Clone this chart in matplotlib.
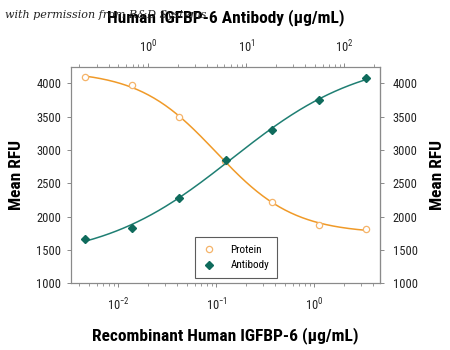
import matplotlib
matplotlib.use("Agg")
import matplotlib.pyplot as plt
import numpy as np
from matplotlib.ticker import LogLocator, NullFormatter

# ── Data ───────────────────────────────────────────────────────────────────
protein_conc = [0.00457, 0.0137, 0.0412, 0.123, 0.370, 1.11, 3.33]      # µg/mL
protein_rfu = [4095, 3970, 3495, 2840, 2225, 1870, 1815]
antibody_conc = [0.229, 0.686, 2.06, 6.17, 18.5, 55.6, 166.7]         # µg/mL
antibody_rfu = [1665, 1825, 2280, 2850, 3300, 3750, 4080]
y_ticks = [1000, 1500, 2000, 2500, 3000, 3500, 4000]

ORANGE_LINE = "#f09a28"
ORANGE_MK = "#f5b46a"
TEAL_LINE = "#1f7f73"
TEAL_MK = "#0f6b5c"
FONT = ["Roboto Condensed", "Liberation Sans", "DejaVu Sans"]

plt.rcParams["font.family"] = FONT
plt.rcParams["mathtext.fontset"] = "custom"
plt.rcParams["mathtext.rm"] = "Liberation Sans"


def fit_4pl(x, y):
    """Crude 4PL fit: grid over ec50/hill, linear LS for the two asymptotes."""
    lx = np.log10(x)
    best = None
    for lc in np.linspace(lx.min(), lx.max(), 200):
        for h in np.linspace(0.3, 2.5, 120):
            s = 1.0 / (1.0 + 10 ** (h * (lx - lc)))
            A = np.column_stack([s, 1 - s])
            coef, *_ = np.linalg.lstsq(A, y, rcond=None)
            err = np.sum((A @ coef - y) ** 2)
            if best is None or err < best[0]:
                best = (err, lc, h, coef)
    _, lc, h, coef = best

    def f(xx):
        s = 1.0 / (1.0 + 10 ** (h * (np.log10(xx) - lc)))
        return coef[0] * s + coef[1] * (1 - s)
    return f


fig = plt.figure(figsize=(4.5, 3.5), dpi=100)
ax = fig.add_axes([0.158, 0.191, 0.687, 0.618])
ax_top = ax.twiny()

# protein curve (bottom axis)
px = np.array(protein_conc)
f_p = fit_4pl(px, np.array(protein_rfu, dtype=float))
xs = np.logspace(np.log10(px.min()), np.log10(px.max()), 200)
ax.plot(xs, f_p(xs), color=ORANGE_LINE, lw=1.1, zorder=2)
prot_line, = ax.plot(px, protein_rfu, "o", mfc="white", mec=ORANGE_MK, ms=4.5,
                     mew=0.9, zorder=3, label="Protein")

# antibody curve (top axis)
bx = np.array(antibody_conc)
f_a = fit_4pl(bx, np.array(antibody_rfu, dtype=float))
xs2 = np.logspace(np.log10(bx.min()), np.log10(bx.max()), 200)
ax_top.plot(xs2, f_a(xs2), color=TEAL_LINE, lw=1.1, zorder=2)
ab_line, = ax_top.plot(bx, antibody_rfu, "D", color=TEAL_MK, ms=4, zorder=3,
                       label="Antibody")

for a in (ax, ax_top):
    a.set_xscale("log")
    a.set_ylim(1000, 4250)
ax.set_xlim(0.0033, 4.7)
ax_top.set_xlim(0.165, 232)
ax.set_yticks(y_ticks)

for a in (ax, ax_top):
    a.xaxis.set_major_locator(LogLocator(base=10))
    a.xaxis.set_minor_locator(LogLocator(base=10, subs=np.arange(2, 10)))
    a.xaxis.set_minor_formatter(NullFormatter())
    for sp in a.spines.values():
        sp.set_color("#8a8a8a")
        sp.set_linewidth(0.8)
    a.tick_params(which="both", color="#8a8a8a", labelsize=9, pad=3,
                  labelcolor="#222222")
    a.tick_params(which="major", length=3, width=0.7)
    a.tick_params(which="minor", length=2, width=0.6)

ax_right = ax.secondary_yaxis("right")
ax_right.set_yticks(y_ticks)
ax_right.spines["right"].set_color("#8a8a8a")
ax_right.tick_params(color="#8a8a8a", labelsize=9, length=3, width=0.7, pad=6,
                     labelcolor="#222222")

ax.tick_params(axis="x", which="major", pad=7)
ax_top.tick_params(axis="x", which="major", pad=5)
ax.tick_params(axis="y", pad=4)

ax.set_xlabel("Recombinant Human IGFBP-6 (\u03bcg/mL)", fontsize=12.5,
              fontweight="bold", labelpad=10)
ax.set_ylabel("Mean RFU", fontsize=12.5, fontweight="bold", labelpad=9)
ax_right.set_ylabel("Mean RFU", fontsize=12.5, fontweight="bold", labelpad=9)
ax_top.set_xlabel("Human IGFBP-6 Antibody (\u03bcg/mL)", fontsize=12.5,
                  fontweight="bold", labelpad=12)

fig.text(0.012, 0.948, "with permission from R&D Systems", fontsize=8,
         family="DejaVu Serif", style="italic", color="#222222", zorder=0)

leg = ax_top.legend([prot_line, ab_line], ["Protein", "Antibody"],
                    loc="lower left", bbox_to_anchor=(0.40, 0.023), fontsize=8,
                    frameon=True, fancybox=False, handlelength=1.2,
                    borderpad=0.7, labelspacing=0.5, handletextpad=1.3,
                    borderaxespad=0)
leg.get_frame().set_edgecolor("#333333")
leg.get_frame().set_linewidth(0.8)

fig.savefig("out.png", dpi=100)
